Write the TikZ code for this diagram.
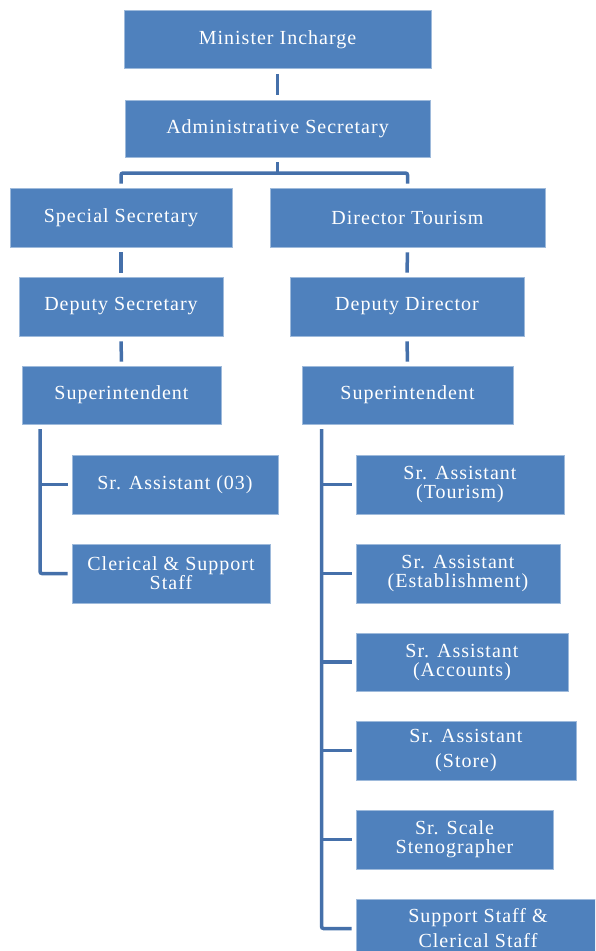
\documentclass[tikz,border=0pt]{standalone}
\usepackage{fontspec}
\setmainfont{Liberation Serif}[LetterSpace=5]
\definecolor{boxblue}{HTML}{4F81BD}
\definecolor{linkblue}{HTML}{4570AA}
\tikzset{
  orgbox/.style={draw=boxblue!55!white, line width=0.6pt, fill=boxblue, text=white,
    align=center, inner sep=2pt, font=\fontsize{20}{19}\selectfont},
  link/.style={draw=linkblue, line width=3.5pt},
}
\begin{document}
\begin{tikzpicture}[x=1pt,y=-1pt]
    \useasboundingbox (0,0) rectangle (595,951);
    \clip (0,0) rectangle (595,951);
    % top of the chart
    \node[orgbox, minimum width=307pt, minimum height=58pt] (min) at (277.5,39.5) {Minister Incharge};
    \node[orgbox, minimum width=305pt, minimum height=57pt] (adm) at (277.5,128.5) {Administrative Secretary};
    % two branches
    \node[orgbox, minimum width=222pt, minimum height=59pt] (spe) at (121,217.5) {Special Secretary};
    \node[orgbox, minimum width=275pt, minimum height=59pt] (dir) at (407.5,217.5) {Director Tourism};
    \node[orgbox, minimum width=204pt, minimum height=59pt] (dsec) at (121,306.5) {Deputy Secretary};
    \node[orgbox, minimum width=234pt, minimum height=59pt] (ddir) at (407,306.5) {Deputy Director};
    \node[orgbox, minimum width=199pt, minimum height=58pt] (supl) at (121.5,395) {Superintendent};
    \node[orgbox, minimum width=211pt, minimum height=58pt] (supr) at (407.5,395) {Superintendent};
    % left staff
    \node[orgbox, minimum width=206pt, minimum height=59pt] (sa03) at (175,484.5) {Sr. Assistant (03)};
    \node[orgbox, minimum width=198pt, minimum height=59pt] (cler) at (171,573.5) {Clerical \& Support\\Staff};
    % right staff
    \node[orgbox, minimum width=208pt, minimum height=59pt] (satour) at (460,484.5) {Sr. Assistant\\(Tourism)};
    \node[orgbox, minimum width=204pt, minimum height=59pt] (saest) at (458,573.5) {Sr. Assistant\\(Establishment)};
    \node[orgbox, minimum width=212pt, minimum height=58pt] (saacc) at (462,662) {Sr. Assistant\\(Accounts)};
    \node[orgbox, minimum width=220pt, minimum height=59pt] (sasto) at (466,750.5) {Sr. Assistant\\[6pt](Store)};
    \node[orgbox, minimum width=197pt, minimum height=59pt] (steno) at (454.5,839.5) {Sr. Scale\\Stenographer};
    \node[orgbox, minimum width=244pt, minimum height=59pt] (supp) at (478,928.5) {Support Staff \&\\[6pt]Clerical Staff};

    % connectors
    \coordinate (fork) at (277.5,173);
    \coordinate (lbus) at (40,429);
    \coordinate (rbus) at (321.5,429);
    \draw[link] ([yshift=-5pt]min.south) -- ([yshift=5pt]adm.north);
    \draw[link] ([yshift=-5pt]adm.south) -- (fork);
    \draw[link, rounded corners=2pt] ([yshift=4pt]spe.north) |- (fork) -| ([yshift=4pt]dir.north);
    \draw[link] ([yshift=-5pt]spe.south) -- ([yshift=4pt]dsec.north);
    \draw[link] ([yshift=-5pt]dir.south) -- ([yshift=4pt]ddir.north);
    \draw[link] ([yshift=-5pt]dsec.south) -- ([yshift=4pt]supl.north);
    \draw[link] ([yshift=-5pt]ddir.south) -- ([yshift=4pt]supr.north);
    \draw[link, rounded corners=2pt] (lbus) |- ([xshift=-4pt]cler.west);
    \draw[link] (lbus |- sa03.west) -- ([xshift=-4pt]sa03.west);
    \draw[link, rounded corners=2pt] (rbus) |- ([xshift=-4pt]supp.west);
    \foreach \n in {satour,saest,saacc,sasto,steno}
        \draw[link] (rbus |- \n.west) -- ([xshift=-4pt]\n.west);
\end{tikzpicture}
\end{document}
